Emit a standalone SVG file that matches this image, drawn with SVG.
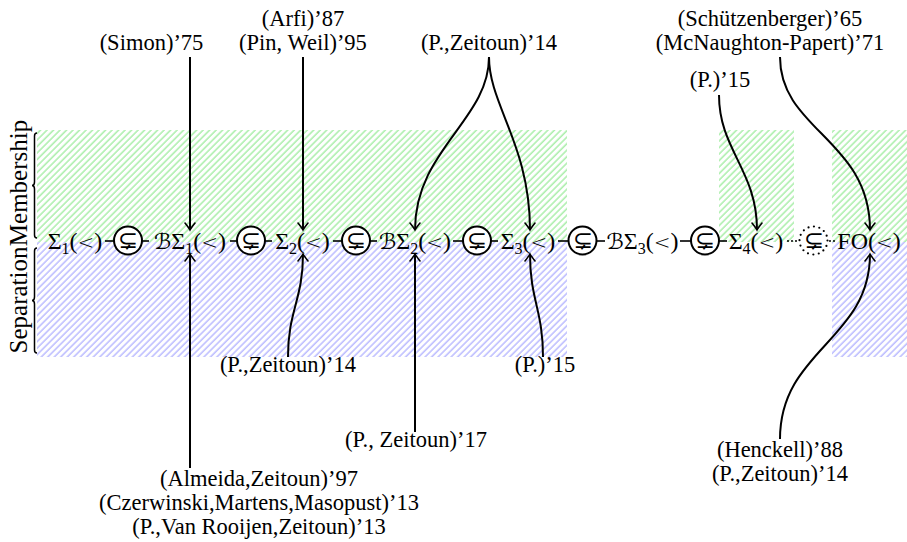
<svg xmlns="http://www.w3.org/2000/svg" width="907" height="542" viewBox="0 0 907 542">
<defs>
<pattern id="pg" patternUnits="userSpaceOnUse" width="4.6" height="10" patternTransform="rotate(45)"><line x1="1" y1="-1" x2="1" y2="11" stroke="#55dd55" stroke-width="0.8"/></pattern>
<pattern id="pb" patternUnits="userSpaceOnUse" width="4.6" height="10" patternTransform="rotate(45)"><line x1="1" y1="-1" x2="1" y2="11" stroke="#7777ff" stroke-width="0.8"/></pattern>
<marker id="ah" markerUnits="userSpaceOnUse" viewBox="-10 -7 12 14" refX="0" refY="0" markerWidth="12" markerHeight="14" orient="auto"><path d="M-7,-5 Q-2,-1 0,0 Q-2,1 -7,5" fill="none" stroke="#000" stroke-width="1.6" stroke-linecap="round"/></marker>
<style>
text { font-family: "Liberation Serif", "DejaVu Serif", "DejaVu Sans", serif; font-size: 22.5px; fill: #000; }
.lbl { text-anchor: middle; }
.side { text-anchor: middle; font-size: 25px; }
.node { text-anchor: middle; font-size: 24px; }
.sub { font-size: 16px; }
.lt { font-family: "DejaVu Sans", sans-serif; font-weight: 200; font-size: 20px; }
.cal { font-family: "DejaVu Sans", sans-serif; font-size: 22px; }
.sym { font-family: "DejaVu Sans", sans-serif; font-weight: 200; font-size: 24px; text-anchor: middle; }
.ring { fill: #fff; stroke: #000; stroke-width: 2; }
.ringd { fill: #fff; stroke: #000; stroke-width: 2.2; stroke-dasharray: 0 5.5; stroke-linecap: round; }
.arr { fill: none; stroke: #000; stroke-width: 2; marker-end: url(#ah); }
.dash { stroke: #000; stroke-width: 1.6; }
.dot { stroke: #000; stroke-width: 2; stroke-dasharray: 0 4; stroke-linecap: round; }
.brace { fill: none; stroke: #000; stroke-width: 1.5; }
</style>
</defs>

<g id="regions">
<rect x="37" y="130" width="530" height="112" fill="url(#pg)"/>
<rect x="37" y="242" width="530" height="115" fill="url(#pb)"/>
<rect x="719" y="130" width="75" height="112" fill="url(#pg)"/>
<rect x="832" y="130" width="75" height="112" fill="url(#pg)"/>
<rect x="832" y="242" width="75" height="115" fill="url(#pb)"/>
</g>

<g id="braces">
<path class="brace" d="M37,133 Q34.5,133 34.5,136 L34.5,182 Q34.5,185.5 32,185.5 Q34.5,185.5 34.5,189 L34.5,235 Q34.5,238 37,238"/>
<path class="brace" d="M37,248 Q34.5,248 34.5,251 L34.5,297 Q34.5,300.5 32,300.5 Q34.5,300.5 34.5,304 L34.5,350 Q34.5,353 37,353"/>
<text class="side" transform="translate(27,183) rotate(-90)">Membership</text>
<text class="side" transform="translate(27,300) rotate(-90)">Separation</text>
</g>

<g id="connectors">
<line class="dash" x1="105" y1="241" x2="114" y2="241"/>
<line class="dash" x1="142" y1="241" x2="149" y2="241"/>
<line class="dash" x1="230" y1="241" x2="237" y2="241"/>
<line class="dash" x1="265" y1="241" x2="272" y2="241"/>
<line class="dash" x1="333" y1="241" x2="342" y2="241"/>
<line class="dash" x1="370" y1="241" x2="377" y2="241"/>
<line class="dash" x1="453" y1="241" x2="463" y2="241"/>
<line class="dash" x1="491" y1="241" x2="498" y2="241"/>
<line class="dash" x1="558" y1="241" x2="568" y2="241"/>
<line class="dash" x1="597" y1="241" x2="605" y2="241"/>
<line class="dash" x1="680" y1="241" x2="691" y2="241"/>
<line class="dash" x1="719" y1="241" x2="727" y2="241"/>
<line class="dot" x1="788" y1="241" x2="797" y2="241"/>
<line class="dot" x1="830" y1="241" x2="836" y2="241"/>
<path class="arr" d="M190,57 L190,230"/>
<path class="arr" d="M303,57 L303,230"/>
<path class="arr" d="M489,57 C489,120 415,150 415,230"/>
<path class="arr" d="M489,57 C489,105 530,145 530,230"/>
<path class="arr" d="M719,95 C719,150 757,170 757,230"/>
<path class="arr" d="M780,57 C780,130 870,140 870,230"/>
<path class="arr" d="M190,468 L190,254"/>
<path class="arr" d="M288,357 C288,310 303,300 303,254"/>
<path class="arr" d="M415,432 L415,254"/>
<path class="arr" d="M543,357 C543,310 530,300 530,254"/>
<path class="arr" d="M780,439 C780,350 870,340 870,254"/>
</g>

<g id="n-s1"><text class="node" x="75" y="249">Σ<tspan class="sub" dy="5">1</tspan><tspan dy="-5">(</tspan><tspan class="lt">&lt;</tspan>)</text></g>
<g id="c1"><circle class="ring" cx="128" cy="240.5" r="14"/><text class="sym" x="128" y="247.5">⊊</text></g>
<g id="n-bs1"><text class="node" x="190" y="249"><tspan class="cal">ℬ</tspan>Σ<tspan class="sub" dy="5">1</tspan><tspan dy="-5">(</tspan><tspan class="lt">&lt;</tspan>)</text></g>
<g id="c2"><circle class="ring" cx="251" cy="240.5" r="14"/><text class="sym" x="251" y="247.5">⊊</text></g>
<g id="n-s2"><text class="node" x="302.5" y="249">Σ<tspan class="sub" dy="5">2</tspan><tspan dy="-5">(</tspan><tspan class="lt">&lt;</tspan>)</text></g>
<g id="c3"><circle class="ring" cx="356" cy="240.5" r="14"/><text class="sym" x="356" y="247.5">⊊</text></g>
<g id="n-bs2"><text class="node" x="415" y="249"><tspan class="cal">ℬ</tspan>Σ<tspan class="sub" dy="5">2</tspan><tspan dy="-5">(</tspan><tspan class="lt">&lt;</tspan>)</text></g>
<g id="c4"><circle class="ring" cx="477" cy="240.5" r="14"/><text class="sym" x="477" y="247.5">⊊</text></g>
<g id="n-s3"><text class="node" x="528" y="249">Σ<tspan class="sub" dy="5">3</tspan><tspan dy="-5">(</tspan><tspan class="lt">&lt;</tspan>)</text></g>
<g id="c5"><circle class="ring" cx="582.5" cy="240.5" r="14"/><text class="sym" x="582.5" y="247.5">⊊</text></g>
<g id="n-bs3"><text class="node" x="642.5" y="249"><tspan class="cal">ℬ</tspan>Σ<tspan class="sub" dy="5">3</tspan><tspan dy="-5">(</tspan><tspan class="lt">&lt;</tspan>)</text></g>
<g id="c6"><circle class="ring" cx="705" cy="240.5" r="14"/><text class="sym" x="705" y="247.5">⊊</text></g>
<g id="n-s4"><text class="node" x="756" y="249">Σ<tspan class="sub" dy="5">4</tspan><tspan dy="-5">(</tspan><tspan class="lt">&lt;</tspan>)</text></g>
<g id="c7"><circle class="ringd" cx="813.5" cy="240.5" r="14"/><text class="sym" x="813.5" y="247.5">⊊</text></g>
<g id="n-fo"><text class="node" x="869" y="249">FO(<tspan class="lt">&lt;</tspan>)</text></g>

<g id="l-simon"><text class="lbl" x="151.5" y="50">(Simon)’75</text></g>
<g id="l-arfi"><text class="lbl" x="303" y="26">(Arfi)’87</text><text class="lbl" x="303" y="50">(Pin, Weil)’95</text></g>
<g id="l-pz14t"><text class="lbl" x="489" y="50">(P.,Zeitoun)’14</text></g>
<g id="l-schutz"><text class="lbl" x="770" y="26">(Schützenberger)’65</text><text class="lbl" x="770" y="50">(McNaughton-Papert)’71</text></g>
<g id="l-p15t"><text class="lbl" x="720" y="87">(P.)’15</text></g>
<g id="l-pz14b"><text class="lbl" x="288" y="372">(P.,Zeitoun)’14</text></g>
<g id="l-p15b"><text class="lbl" x="545" y="372">(P.)’15</text></g>
<g id="l-pz17"><text class="lbl" x="416" y="447">(P., Zeitoun)’17</text></g>
<g id="l-almeida"><text class="lbl" x="259" y="486">(Almeida,Zeitoun)’97</text><text class="lbl" x="259" y="510">(Czerwinski,Martens,Masopust)’13</text><text class="lbl" x="259" y="534">(P.,Van Rooijen,Zeitoun)’13</text></g>
<g id="l-henckell"><text class="lbl" x="780" y="457">(Henckell)’88</text><text class="lbl" x="780" y="481">(P.,Zeitoun)’14</text></g>
</svg>
